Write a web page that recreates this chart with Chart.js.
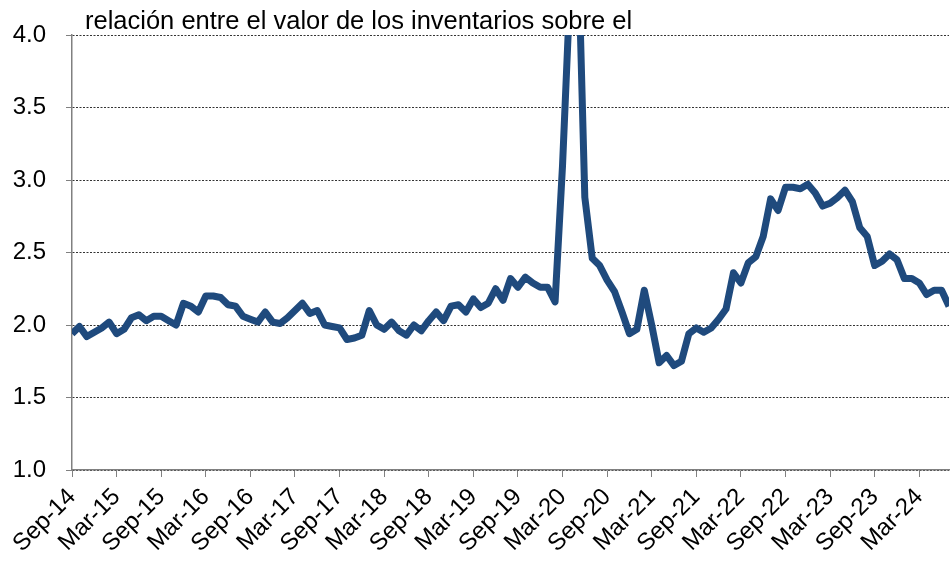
<!DOCTYPE html>
<html>
<head>
<meta charset="utf-8">
<script src="https://cdn.jsdelivr.net/npm/chart.js@4"></script>
<style>
  html, body { margin: 0; padding: 0; background: #fff; }
  #wrap { width: 950px; height: 562px; }
</style>
</head>
<body>
<div id="wrap"><canvas id="chart"></canvas></div>
<script>
// Series: monthly ratio, Sep-14 .. Jul-24
const MONTHS = ['Jan', 'Feb', 'Mar', 'Apr', 'May', 'Jun', 'Jul', 'Aug', 'Sep', 'Oct', 'Nov', 'Dec'];
const START_YEAR = 14;
const START_MONTH = 8; // Sep

const ratio = [
  1.94, 1.99, 1.92, 1.95, 1.98, 2.02, 1.94, 1.97, 2.05, 2.07, 2.03, 2.06,
  2.06, 2.03, 2.00, 2.15, 2.13, 2.09, 2.20, 2.20, 2.19, 2.14, 2.13, 2.06,
  2.04, 2.02, 2.09, 2.02, 2.01, 2.05, 2.10, 2.15, 2.08, 2.10, 2.00, 1.99,
  1.98, 1.90, 1.91, 1.93, 2.10, 2.00, 1.97, 2.02, 1.96, 1.93, 2.00, 1.96,
  2.03, 2.09, 2.03, 2.13, 2.14, 2.09, 2.18, 2.12, 2.15, 2.25, 2.17, 2.32,
  2.26, 2.33, 2.29, 2.26, 2.26, 2.16, 3.10, 4.30, 4.80, 2.88, 2.46, 2.41,
  2.31, 2.23, 2.09, 1.94, 1.97, 2.24, 2.00, 1.74, 1.79, 1.72, 1.75, 1.94,
  1.98, 1.95, 1.98, 2.04, 2.11, 2.36, 2.29, 2.43, 2.47, 2.61, 2.87, 2.79,
  2.95, 2.95, 2.94, 2.97, 2.91, 2.82, 2.84, 2.88, 2.93, 2.85, 2.67, 2.61,
  2.41, 2.44, 2.49, 2.45, 2.32, 2.32, 2.29, 2.21, 2.24, 2.24, 2.13
];

const yTicks = [1.0, 1.5, 2.0, 2.5, 3.0, 3.5, 4.0];
const TITLE = 'relación entre el valor de los inventarios sobre el';
const LABEL_EVERY = 6;

const labels = ratio.map((_, i) => {
  const m = (START_MONTH + i) % 12;
  const y = START_YEAR + Math.floor((START_MONTH + i) / 12);
  return MONTHS[m] + '-' + y;
});

const FONT = '"Liberation Sans", Arial, sans-serif';
const AXIS_GRAY = '#808080';

// Title text sits just above the plot, starting a bit right of the y axis
const titlePlugin = {
  id: 'cornerTitle',
  afterDraw(chart) {
    const { ctx, chartArea } = chart;
    ctx.save();
    ctx.font = '25.5px ' + FONT;
    ctx.fillStyle = '#000';
    ctx.textBaseline = 'alphabetic';
    ctx.textAlign = 'left';
    ctx.fillText(TITLE, chartArea.left + 13, 29);
    ctx.restore();
  }
};

new Chart(document.getElementById('chart'), {
  type: 'line',
  data: {
    labels,
    datasets: [{
      data: ratio,
      borderColor: '#1F4A7D',
      borderWidth: 7,
      pointRadius: 0,
      tension: 0,
      borderJoinStyle: 'round',
      clip: 0,
    }]
  },
  options: {
    responsive: true,
    maintainAspectRatio: false,
    animation: false,
    layout: { padding: { top: 35, right: 1, left: 0, bottom: 0 } },
    plugins: {
      legend: { display: false },
      tooltip: { enabled: false },
    },
    scales: {
      x: {
        type: 'category',
        offset: false,
        afterFit: (scale) => { scale.height = 92; },
        afterBuildTicks: (scale) => {
          scale.ticks = scale.ticks.filter(t => t.value % LABEL_EVERY === 0);
        },
        grid: {
          drawOnChartArea: false,
          drawTicks: true,
          tickLength: 7,
          tickColor: AXIS_GRAY,
        },
        border: { display: true, color: AXIS_GRAY, width: 1.5 },
        ticks: {
          autoSkip: false,
          minRotation: 45,
          maxRotation: 45,
          padding: 6,
          color: '#000',
          font: { family: FONT, size: 24 },
        },
      },
      y: {
        min: 1,
        max: 4,
        afterFit: (scale) => { scale.width = 72; },
        afterBuildTicks: (scale) => { scale.ticks = yTicks.map(v => ({ value: v })); },
        grid: {
          color: '#333',
          lineWidth: 1,
          drawTicks: true,
          tickLength: 6,
          tickColor: AXIS_GRAY,
        },
        border: { display: true, color: AXIS_GRAY, width: 1.5, dash: [2, 1.5] },
        ticks: {
          padding: 20,
          color: '#000',
          font: { family: FONT, size: 24 },
          callback: (v) => v.toFixed(1),
        },
      },
    },
  },
  plugins: [titlePlugin],
});
</script>
</body>
</html>
